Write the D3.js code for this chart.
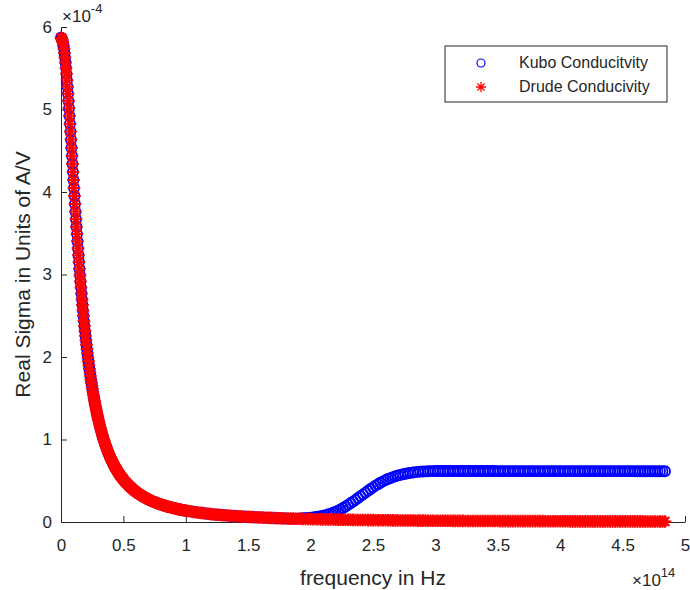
<!DOCTYPE html>
<html>
<head>
<meta charset="utf-8">
<script src="https://d3js.org/d3.v7.min.js"></script>
<style>
  body { margin: 0; background: #fff; }
  text { font-family: "Liberation Sans", Arial, Helvetica, sans-serif; fill: #262626; }
</style>
</head>
<body>
<div id="vis"></div>
<script>
// frequency, in units of 1e14 Hz (sampled densely, as in the original plot)
const freq = [
  0, 0.005, 0.01, 0.015,
  0.02, 0.024, 0.028, 0.032, 0.036, 0.04, 0.044, 0.048, 0.052, 0.056,
  0.06, 0.064, 0.068, 0.072, 0.076, 0.08, 0.084, 0.088, 0.092, 0.096,
  0.1, 0.104, 0.108, 0.112, 0.116, 0.12, 0.124, 0.128, 0.132, 0.136,
  0.14, 0.144, 0.148, 0.152, 0.156, 0.16, 0.164, 0.168, 0.172, 0.176,
  0.18, 0.184, 0.188, 0.192, 0.196, 0.2, 0.204, 0.208, 0.212, 0.216,
  0.22, 0.224, 0.228, 0.232, 0.236, 0.24, 0.244, 0.248, 0.252, 0.256,
  0.26, 0.264, 0.268, 0.272, 0.276, 0.28, 0.284, 0.288, 0.292, 0.296,
  0.3, 0.305, 0.31, 0.315, 0.32, 0.325, 0.33, 0.335, 0.34, 0.345,
  0.35, 0.355, 0.36, 0.365, 0.37, 0.375, 0.38, 0.385, 0.39, 0.395,
  0.4, 0.405, 0.41, 0.415, 0.42, 0.425, 0.43, 0.435, 0.44, 0.445,
  0.45, 0.455, 0.46, 0.465, 0.47, 0.475, 0.48, 0.485, 0.49, 0.495,
  0.5, 0.51, 0.52, 0.53, 0.54, 0.55, 0.56, 0.57, 0.58, 0.59,
  0.6, 0.61, 0.62, 0.63, 0.64, 0.65, 0.66, 0.67, 0.68, 0.69,
  0.7, 0.71, 0.72, 0.73, 0.74, 0.75, 0.76, 0.77, 0.78, 0.79,
  0.8, 0.81, 0.82, 0.83, 0.84, 0.85, 0.86, 0.87, 0.88, 0.89,
  0.9, 0.91, 0.92, 0.93, 0.94, 0.95, 0.96, 0.97, 0.98, 0.99,
  1, 1.02, 1.04, 1.06, 1.08, 1.1, 1.12, 1.14, 1.16, 1.18,
  1.2, 1.22, 1.24, 1.26, 1.28, 1.3, 1.32, 1.34, 1.36, 1.38,
  1.4, 1.42, 1.44, 1.46, 1.48, 1.5, 1.52, 1.54, 1.56, 1.58,
  1.6, 1.62, 1.64, 1.66, 1.68, 1.7, 1.72, 1.74, 1.76, 1.78,
  1.8, 1.82, 1.84, 1.86, 1.88, 1.9, 1.92, 1.94, 1.96, 1.98,
  2, 2.02, 2.04, 2.06, 2.08, 2.1, 2.12, 2.14, 2.16, 2.18,
  2.2, 2.22, 2.24, 2.26, 2.28, 2.3, 2.32, 2.34, 2.36, 2.38,
  2.4, 2.42, 2.44, 2.46, 2.48, 2.5, 2.52, 2.54, 2.56, 2.58,
  2.6, 2.62, 2.64, 2.66, 2.68, 2.7, 2.72, 2.74, 2.76, 2.78,
  2.8, 2.82, 2.84, 2.86, 2.88, 2.9, 2.92, 2.94, 2.96, 2.98,
  3, 3.02, 3.04, 3.06, 3.08, 3.1, 3.12, 3.14, 3.16, 3.18,
  3.2, 3.22, 3.24, 3.26, 3.28, 3.3, 3.32, 3.34, 3.36, 3.38,
  3.4, 3.42, 3.44, 3.46, 3.48, 3.5, 3.52, 3.54, 3.56, 3.58,
  3.6, 3.62, 3.64, 3.66, 3.68, 3.7, 3.72, 3.74, 3.76, 3.78,
  3.8, 3.82, 3.84, 3.86, 3.88, 3.9, 3.92, 3.94, 3.96, 3.98,
  4, 4.02, 4.04, 4.06, 4.08, 4.1, 4.12, 4.14, 4.16, 4.18,
  4.2, 4.22, 4.24, 4.26, 4.28, 4.3, 4.32, 4.34, 4.36, 4.38,
  4.4, 4.42, 4.44, 4.46, 4.48, 4.5, 4.52, 4.54, 4.56, 4.58,
  4.6, 4.62, 4.64, 4.66, 4.68, 4.7, 4.72, 4.74, 4.76, 4.78,
  4.8, 4.82, 4.84
];

// real sigma, in units of 1e-4 A/V
const kubo = [
  5.87, 5.864, 5.846, 5.816,
  5.774, 5.733, 5.684, 5.63, 5.57, 5.503, 5.432, 5.356, 5.276, 5.192,
  5.105, 5.015, 4.923, 4.828, 4.732, 4.635, 4.537, 4.439, 4.341, 4.243,
  4.145, 4.048, 3.951, 3.856, 3.763, 3.67, 3.579, 3.49, 3.403, 3.317,
  3.233, 3.151, 3.07, 2.992, 2.916, 2.842, 2.77, 2.699, 2.631, 2.564,
  2.499, 2.437, 2.375, 2.316, 2.259, 2.203, 2.149, 2.096, 2.045, 1.995,
  1.947, 1.901, 1.855, 1.811, 1.769, 1.728, 1.688, 1.649, 1.611, 1.575,
  1.539, 1.505, 1.471, 1.439, 1.407, 1.377, 1.347, 1.318, 1.29, 1.263,
  1.237, 1.205, 1.174, 1.144, 1.116, 1.088, 1.061, 1.035, 1.01, 0.986,
  0.963, 0.94, 0.918, 0.897, 0.876, 0.857, 0.837, 0.819, 0.801, 0.783,
  0.766, 0.75, 0.734, 0.719, 0.704, 0.689, 0.675, 0.661, 0.648, 0.635,
  0.623, 0.61, 0.599, 0.587, 0.576, 0.565, 0.554, 0.544, 0.534, 0.524,
  0.515, 0.496, 0.479, 0.463, 0.447, 0.432, 0.418, 0.404, 0.391, 0.379,
  0.367, 0.356, 0.345, 0.335, 0.325, 0.316, 0.307, 0.298, 0.29, 0.282,
  0.274, 0.267, 0.26, 0.253, 0.247, 0.24, 0.234, 0.229, 0.223, 0.218,
  0.212, 0.207, 0.203, 0.198, 0.193, 0.189, 0.185, 0.181, 0.177, 0.173,
  0.169, 0.166, 0.162, 0.159, 0.155, 0.152, 0.149, 0.146, 0.143, 0.14,
  0.138, 0.133, 0.128, 0.123, 0.119, 0.114, 0.11, 0.107, 0.103, 0.1,
  0.096, 0.093, 0.09, 0.088, 0.085, 0.082, 0.08, 0.078, 0.075, 0.073,
  0.071, 0.069, 0.067, 0.065, 0.064, 0.062, 0.06, 0.059, 0.057, 0.056,
  0.055, 0.053, 0.052, 0.051, 0.05, 0.048, 0.047, 0.046, 0.045, 0.044,
  0.043, 0.042, 0.041, 0.041, 0.041, 0.042, 0.044, 0.046, 0.048, 0.051,
  0.054, 0.057, 0.061, 0.065, 0.07, 0.077, 0.084, 0.092, 0.101, 0.112,
  0.125, 0.139, 0.154, 0.17, 0.188, 0.207, 0.227, 0.248, 0.269, 0.291,
  0.313, 0.335, 0.357, 0.379, 0.4, 0.42, 0.44, 0.458, 0.476, 0.492,
  0.507, 0.521, 0.533, 0.545, 0.555, 0.564, 0.572, 0.579, 0.585, 0.591,
  0.596, 0.6, 0.604, 0.607, 0.61, 0.612, 0.614, 0.615, 0.616, 0.617,
  0.618, 0.618, 0.618, 0.618, 0.618, 0.618, 0.618, 0.618, 0.618, 0.618,
  0.618, 0.618, 0.618, 0.618, 0.618, 0.618, 0.618, 0.618, 0.618, 0.618,
  0.618, 0.618, 0.618, 0.618, 0.618, 0.617, 0.617, 0.617, 0.617, 0.617,
  0.617, 0.617, 0.617, 0.617, 0.617, 0.617, 0.617, 0.617, 0.617, 0.617,
  0.617, 0.617, 0.617, 0.617, 0.617, 0.617, 0.617, 0.617, 0.617, 0.617,
  0.616, 0.616, 0.616, 0.616, 0.616, 0.616, 0.616, 0.616, 0.616, 0.616,
  0.616, 0.616, 0.616, 0.616, 0.616, 0.616, 0.616, 0.616, 0.616, 0.616,
  0.616, 0.616, 0.616, 0.616, 0.616, 0.616, 0.616, 0.616, 0.616, 0.616,
  0.615, 0.615, 0.615, 0.615, 0.615, 0.615, 0.615, 0.615, 0.615, 0.615,
  0.615, 0.615, 0.615
];

const drude = [
  5.87, 5.864, 5.846, 5.816,
  5.774, 5.733, 5.684, 5.63, 5.57, 5.503, 5.432, 5.356, 5.276, 5.192,
  5.105, 5.015, 4.923, 4.828, 4.732, 4.635, 4.537, 4.439, 4.341, 4.243,
  4.145, 4.048, 3.951, 3.856, 3.763, 3.67, 3.579, 3.49, 3.403, 3.317,
  3.233, 3.151, 3.07, 2.992, 2.916, 2.842, 2.77, 2.699, 2.631, 2.564,
  2.499, 2.437, 2.375, 2.316, 2.259, 2.203, 2.149, 2.096, 2.045, 1.995,
  1.947, 1.901, 1.855, 1.811, 1.769, 1.728, 1.688, 1.649, 1.611, 1.575,
  1.539, 1.505, 1.471, 1.439, 1.407, 1.377, 1.347, 1.318, 1.29, 1.263,
  1.237, 1.205, 1.174, 1.144, 1.116, 1.088, 1.061, 1.035, 1.01, 0.986,
  0.963, 0.94, 0.918, 0.897, 0.876, 0.857, 0.837, 0.819, 0.801, 0.783,
  0.766, 0.75, 0.734, 0.719, 0.704, 0.689, 0.675, 0.661, 0.648, 0.635,
  0.623, 0.61, 0.599, 0.587, 0.576, 0.565, 0.554, 0.544, 0.534, 0.524,
  0.515, 0.496, 0.479, 0.463, 0.447, 0.432, 0.418, 0.404, 0.391, 0.379,
  0.367, 0.356, 0.345, 0.335, 0.325, 0.316, 0.307, 0.298, 0.29, 0.282,
  0.274, 0.267, 0.26, 0.253, 0.247, 0.24, 0.234, 0.229, 0.223, 0.218,
  0.212, 0.207, 0.203, 0.198, 0.193, 0.189, 0.185, 0.181, 0.177, 0.173,
  0.169, 0.166, 0.162, 0.159, 0.155, 0.152, 0.149, 0.146, 0.143, 0.14,
  0.138, 0.133, 0.128, 0.123, 0.119, 0.114, 0.11, 0.107, 0.103, 0.1,
  0.096, 0.093, 0.09, 0.088, 0.085, 0.082, 0.08, 0.078, 0.075, 0.073,
  0.071, 0.069, 0.067, 0.065, 0.064, 0.062, 0.06, 0.059, 0.057, 0.056,
  0.055, 0.053, 0.052, 0.051, 0.05, 0.048, 0.047, 0.046, 0.045, 0.044,
  0.043, 0.042, 0.041, 0.041, 0.04, 0.039, 0.038, 0.037, 0.037, 0.036,
  0.035, 0.034, 0.034, 0.033, 0.032, 0.032, 0.031, 0.031, 0.03, 0.03,
  0.029, 0.029, 0.028, 0.028, 0.027, 0.027, 0.026, 0.026, 0.025, 0.025,
  0.025, 0.024, 0.024, 0.023, 0.023, 0.023, 0.022, 0.022, 0.022, 0.021,
  0.021, 0.021, 0.02, 0.02, 0.02, 0.019, 0.019, 0.019, 0.019, 0.018,
  0.018, 0.018, 0.018, 0.017, 0.017, 0.017, 0.017, 0.016, 0.016, 0.016,
  0.016, 0.016, 0.015, 0.015, 0.015, 0.015, 0.015, 0.014, 0.014, 0.014,
  0.014, 0.014, 0.013, 0.013, 0.013, 0.013, 0.013, 0.013, 0.013, 0.012,
  0.012, 0.012, 0.012, 0.012, 0.012, 0.012, 0.011, 0.011, 0.011, 0.011,
  0.011, 0.011, 0.011, 0.011, 0.01, 0.01, 0.01, 0.01, 0.01, 0.01,
  0.01, 0.01, 0.01, 0.01, 0.009, 0.009, 0.009, 0.009, 0.009, 0.009,
  0.009, 0.009, 0.009, 0.009, 0.008, 0.008, 0.008, 0.008, 0.008, 0.008,
  0.008, 0.008, 0.008, 0.008, 0.008, 0.008, 0.008, 0.007, 0.007, 0.007,
  0.007, 0.007, 0.007, 0.007, 0.007, 0.007, 0.007, 0.007, 0.007, 0.007,
  0.007, 0.007, 0.007, 0.007, 0.006, 0.006, 0.006, 0.006, 0.006, 0.006,
  0.006, 0.006, 0.006
];

const xTicks = [0, 0.5, 1, 1.5, 2, 2.5, 3, 3.5, 4, 4.5, 5];
const yTicks = [0, 1, 2, 3, 4, 5, 6];
const seriesNames = ['Kubo Conducitvity', 'Drude Conducivity'];

let width = 690,
  height = 590,
  margin = { top: 27, left: 61, right: 5, bottom: 68 };

let axisColor = '#262626';

let svg = d3.select('#vis')
  .append('svg')
  .attr('width', width)
  .attr('height', height)
  .style('background-color', '#fff');

let xScale = d3.scaleLinear().domain([0, 5]).range([margin.left, width - margin.right]),
  yScale = d3.scaleLinear().domain([0, 6]).range([height - margin.bottom, margin.top]);

// axes (MATLAB style: ticks point inward, no box)
let gx = svg.append('g')
  .attr('transform', 'translate(0,' + yScale(0) + ')')
  .call(d3.axisBottom(xScale).tickValues(xTicks).tickFormat(d3.format('~g'))
    .tickSizeInner(-6).tickSizeOuter(0).tickPadding(17));

let gy = svg.append('g')
  .attr('transform', 'translate(' + xScale(0) + ',0)')
  .call(d3.axisLeft(yScale).tickValues(yTicks).tickFormat(d3.format('~g'))
    .tickSizeInner(-6).tickSizeOuter(0).tickPadding(9));

[gx, gy].forEach(function (g) {
  g.attr('font-size', 17);
  g.select('.domain').attr('stroke', axisColor);
  g.selectAll('.tick line').attr('stroke', axisColor);
  g.selectAll('.tick text').style('fill', axisColor);
});

// exponent labels
let expTop = svg.append('text').attr('x', 62).attr('y', 22).style('font-size', '17px');
expTop.append('tspan').text('\u00d710');
expTop.append('tspan').attr('dy', -9).style('font-size', '13px').text('-4');

let expBottom = svg.append('text').attr('x', 632).attr('y', 586).style('font-size', '17px');
expBottom.append('tspan').text('\u00d710');
expBottom.append('tspan').attr('dy', -9).style('font-size', '13px').text('14');

// axis titles
svg.append('text')
  .attr('x', (xScale(0) + xScale(5)) / 2)
  .attr('y', 585)
  .attr('text-anchor', 'middle')
  .style('font-size', '21px')
  .text('frequency in Hz');

svg.append('text')
  .attr('text-anchor', 'middle')
  .attr('transform', 'translate(30,' + (yScale(0) + yScale(6)) / 2 + ')rotate(-90)')
  .style('font-size', '21px')
  .text('Real Sigma in Units of A/V');

// asterisk marker = plus + cross
function starPath(r) {
  let d = r * 0.7071;
  return 'M' + (-r) + ',0H' + r + 'M0,' + (-r) + 'V' + r +
    'M' + (-d) + ',' + (-d) + 'L' + d + ',' + d +
    'M' + (-d) + ',' + d + 'L' + d + ',' + (-d);
}

// Kubo: blue circles
svg.append('g')
  .selectAll('circle')
  .data(freq)
  .enter()
  .append('circle')
  .attr('cx', function (d) { return xScale(d); })
  .attr('cy', function (d, i) { return yScale(kubo[i]); })
  .attr('r', 5)
  .attr('fill', 'none')
  .attr('stroke', '#0000ff')
  .attr('stroke-width', 1.8);

// Drude: red asterisks
svg.append('g')
  .selectAll('path')
  .data(freq)
  .enter()
  .append('path')
  .attr('transform', function (d, i) { return 'translate(' + xScale(d) + ',' + yScale(drude[i]) + ')'; })
  .attr('d', starPath(6.3))
  .attr('fill', 'none')
  .attr('stroke', '#ff0000')
  .attr('stroke-width', 2);

// legend
let legend = svg.append('g').attr('transform', 'translate(445,46)');
legend.append('rect')
  .attr('width', 222)
  .attr('height', 56)
  .attr('fill', '#fff')
  .attr('stroke', axisColor)
  .attr('stroke-width', 1);

legend.append('circle')
  .attr('cx', 36).attr('cy', 17).attr('r', 4)
  .attr('fill', 'none').attr('stroke', '#0000ff').attr('stroke-width', 1.2);
legend.append('path')
  .attr('transform', 'translate(36,41)')
  .attr('d', starPath(5))
  .attr('fill', 'none').attr('stroke', '#ff0000').attr('stroke-width', 1.3);

legend.selectAll('text.name')
  .data(seriesNames)
  .enter()
  .append('text')
  .attr('class', 'name')
  .attr('x', 74)
  .attr('y', function (d, i) { return 22 + i * 24; })
  .style('font-size', '16px')
  .text(function (d) { return d; });
</script>
</body>
</html>
